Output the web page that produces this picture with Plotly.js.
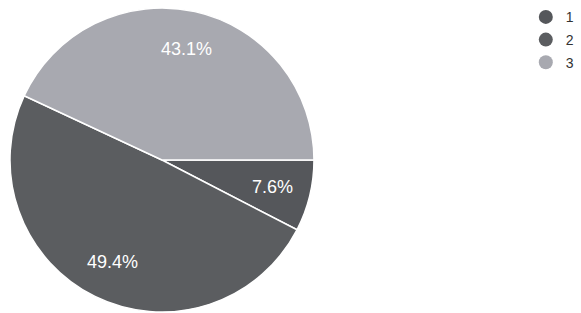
<!DOCTYPE html>
<html>
<head>
<meta charset="utf-8">
<script src="https://cdn.plot.ly/plotly-3.0.1.min.js"></script>
<style>html,body{margin:0;padding:0;background:#fff;}#chart{width:581px;height:313px;}</style>
</head>
<body>
<div id="chart"></div>
<script>
const labels = ['1', '2', '3'];
const values = [7.6, 49.4, 43.1];
const sliceText = ['7.6%', '49.4%', '43.1%'];
const colors = ['#55575b', '#5b5d60', '#a8a9b0'];

const W = 581, H = 313;
const margin = {l: 0, r: 0, t: 8, b: 1};
const domainX = [0.0172, 0.5404];
const rotationDeg = 90; // first slice starts at 3 o'clock
const labelRadiusFrac = 0.745;

const pie = {
  type: 'pie',
  labels: labels,
  values: values,
  textinfo: 'none',
  sort: false,
  direction: 'clockwise',
  rotation: rotationDeg,
  marker: {colors: colors, line: {color: '#ffffff', width: 1.5}},
  domain: {x: domainX, y: [0, 1]},
  showlegend: false,
  hoverinfo: 'none'
};

const legendTraces = labels.map((l, i) => ({
  type: 'scatter',
  mode: 'markers',
  x: [null], y: [null],
  name: l,
  legendgroup: 'g' + i,
  marker: {symbol: 'circle', size: 14, color: colors[i]},
  showlegend: true,
  hoverinfo: 'none'
}));

// label positions derived from the slice values
const plotW = W - margin.l - margin.r;
const plotH = H - margin.t - margin.b;
const cxPx = (domainX[0] + domainX[1]) / 2 * plotW;
const cyPx = plotH / 2;
const Rpx = Math.min((domainX[1] - domainX[0]) * plotW, plotH) / 2;
const total = values.reduce((a, b) => a + b, 0);
let cum = 0;
const annotations = values.map((v, i) => {
  const midFrac = (cum + v / 2) / total;
  cum += v;
  const ang = (rotationDeg + midFrac * 360) * Math.PI / 180;
  const dx = Math.sin(ang) * Rpx * labelRadiusFrac;
  const dy = Math.cos(ang) * Rpx * labelRadiusFrac;
  return {
    xref: 'paper', yref: 'paper',
    x: (cxPx + dx) / plotW,
    y: (cyPx + dy) / plotH,
    text: sliceText[i],
    showarrow: false,
    xanchor: 'center', yanchor: 'middle',
    font: {color: '#ffffff', size: 18, family: 'Liberation Sans, Arial, sans-serif'}
  };
});

const layout = {
  width: W, height: H,
  margin: margin,
  paper_bgcolor: '#ffffff',
  plot_bgcolor: '#ffffff',
  xaxis: {visible: false},
  yaxis: {visible: false},
  showlegend: true,
  annotations: annotations,
  legend: {x: 0.905, y: 1.022, xanchor: 'left', yanchor: 'top',
           tracegroupgap: 1.5,
           font: {size: 14, color: '#333333', family: 'Liberation Sans, Arial, sans-serif'},
           bgcolor: 'rgba(0,0,0,0)'}
};

Plotly.newPlot('chart', [pie].concat(legendTraces), layout, {staticPlot: true});
</script>
</body>
</html>
